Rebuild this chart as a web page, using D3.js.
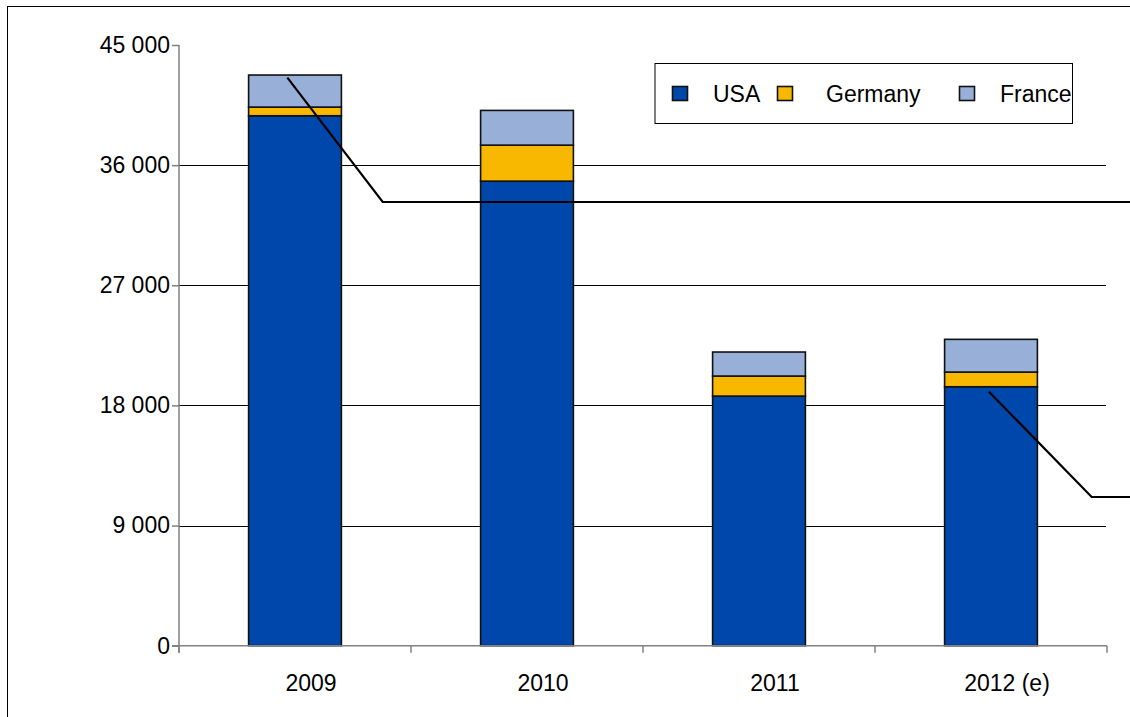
<!DOCTYPE html>
<html>
<head>
<meta charset="utf-8">
<script src="https://cdn.jsdelivr.net/npm/d3@7"></script>
<style>
  html, body { margin: 0; padding: 0; background: #fff; }
  svg { display: block; font-family: "Liberation Sans", Arial, sans-serif; }
</style>
</head>
<body>
<svg id="chart" width="1130" height="717"></svg>
<script>
// Yearly volumes by country (stacked: USA, Germany, France)
const categories = ["2009", "2010", "2011", "2012 (e)"];
const seriesNames = ["USA", "Germany", "France"];
const usa     = [39700, 34800, 18700, 19400];
const germany = [650, 2700, 1500, 1100];
const france  = [2400, 2600, 1800, 2450];
const seriesColors = ["#0047AB", "#F9B800", "#98B0D8"];
const yTicks = [0, 9000, 18000, 27000, 36000, 45000];
const gridValues = [9000, 18000, 27000, 36000];

// Leader lines: position along the category axis (index units) and value
const leader1 = [{ pos: -0.033, value: 42550 }, { pos: 0.378, value: 33240 }, { pos: 3.7, value: 33240 }];
const leader2 = [{ pos: 2.991, value: 19030 }, { pos: 3.434, value: 11140 }, { pos: 3.7, value: 11140 }];

const svg = d3.select("#chart");
const plotLeft = 179, plotRight = 1107, plotTop = 45, plotBottom = 645.7;

const x = d3.scaleBand().domain(categories).range([plotLeft, plotRight])
  .paddingInner(0.6).paddingOuter(0.3);
const slot = d3.scaleLinear().domain([0, categories.length]).range([plotLeft, plotRight]);
const y = d3.scaleLinear().domain([0, 45000]).range([plotBottom, plotTop]);

// outer frame
svg.append("rect")
  .attr("x", 7.5).attr("y", 6.5).attr("width", 1140).attr("height", 730)
  .attr("fill", "none").attr("stroke", "#000").attr("stroke-width", 1);

// gridlines
svg.append("g").selectAll("line").data(gridValues).join("line")
  .attr("x1", plotLeft).attr("x2", plotRight - 1)
  .attr("y1", d => Math.round(y(d)) + 0.5).attr("y2", d => Math.round(y(d)) + 0.5)
  .attr("stroke", "#000").attr("stroke-width", 1);

// stacked bars
const rows = categories.map((c, i) => ({ cat: c, USA: usa[i], Germany: germany[i], France: france[i] }));
const stacked = d3.stack().keys(seriesNames)(rows);
const color = d3.scaleOrdinal().domain(seriesNames).range(seriesColors);

svg.append("g").selectAll("g").data(stacked).join("g")
  .attr("fill", d => color(d.key))
  .selectAll("rect").data(d => d).join("rect")
  .attr("x", d => x(d.data.cat))
  .attr("width", x.bandwidth())
  .attr("y", d => y(d[1]))
  .attr("height", d => y(d[0]) - y(d[1]))
  .attr("stroke", "#111").attr("stroke-width", 1.6);

// y axis
const fmt = v => d3.format(",")(v).replace(/,/g, " ");
const yAxis = svg.append("g").attr("transform", `translate(${plotLeft},0)`)
  .call(d3.axisLeft(y).tickValues(yTicks).tickSize(7).tickPadding(2).tickFormat(fmt));
yAxis.select(".domain").attr("stroke", "#808080").attr("stroke-width", 1.5)
  .attr("d", `M0,${plotTop}V${plotBottom + 7}`);
yAxis.selectAll(".tick line").attr("stroke", "#808080").attr("stroke-width", 1.5);
yAxis.selectAll(".tick text").attr("font-size", 23).attr("fill", "#000")
  .attr("font-family", "Liberation Sans, Arial, sans-serif");

// x axis with ticks at category boundaries
const xg = svg.append("g");
xg.append("line").attr("x1", plotLeft - 7).attr("x2", plotRight)
  .attr("y1", plotBottom).attr("y2", plotBottom)
  .attr("stroke", "#808080").attr("stroke-width", 1.5);
xg.selectAll("line.tk").data(d3.range(categories.length + 1)).join("line")
  .attr("class", "tk")
  .attr("x1", d => slot(d)).attr("x2", d => slot(d))
  .attr("y1", plotBottom).attr("y2", plotBottom + 7)
  .attr("stroke", "#808080").attr("stroke-width", 1.5);
xg.selectAll("text").data(categories).join("text")
  .attr("x", d => x(d) + x.bandwidth() / 2 + 16)
  .attr("y", 691)
  .attr("text-anchor", "middle")
  .attr("font-size", 23).attr("fill", "#000")
  .text(d => d);

// leader lines
const lineGen = d3.line().x(d => slot(d.pos + 0.5)).y(d => y(d.value));
[leader1, leader2].forEach(pts => {
  svg.append("path").attr("d", lineGen(pts))
    .attr("fill", "none").attr("stroke", "#000").attr("stroke-width", 2.2);
});

// legend
const lg = svg.append("g");
lg.append("rect").attr("x", 655).attr("y", 63.5).attr("width", 417.5).attr("height", 60)
  .attr("fill", "#fff").attr("stroke", "#000").attr("stroke-width", 1);
svg.append("clipPath").attr("id", "legclip")
  .append("rect").attr("x", 655).attr("y", 63.5).attr("width", 417.5).attr("height", 60);
const legendSwatchX = [672.5, 777.5, 959.5];
const legendTextX = [713, 826, 1000];
const items = lg.append("g").attr("clip-path", "url(#legclip)")
  .selectAll("g").data(seriesNames).join("g");
items.append("rect")
  .attr("x", (d, i) => legendSwatchX[i]).attr("y", 86.5)
  .attr("width", 15).attr("height", 14)
  .attr("fill", d => color(d)).attr("stroke", "#111").attr("stroke-width", 1.6);
items.append("text")
  .attr("x", (d, i) => legendTextX[i]).attr("y", 102)
  .attr("font-size", 23).attr("fill", "#000")
  .text(d => d);
</script>
</body>
</html>
